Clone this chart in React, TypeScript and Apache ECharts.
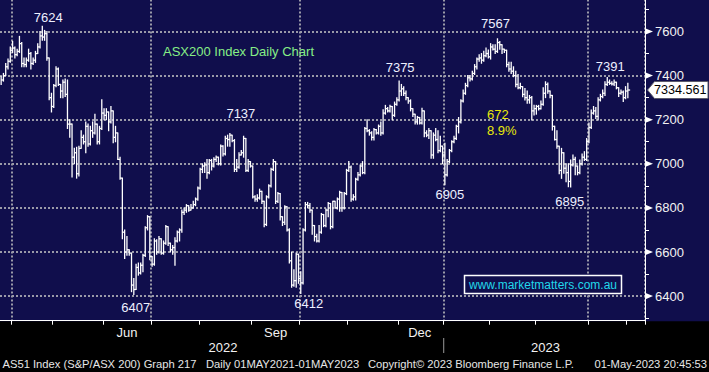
import { useEffect, useRef } from 'react';
import * as echarts from 'echarts';

const FONT = "'Liberation Sans', Arial, Helvetica, sans-serif";
const NAVY = '#100e4c';
const GRID_COLOR = '#9a9aa8';

// trading calendar (ASX)
const FIRST_DAY = [2022, 2, 25];
const LAST_DAY = [2023, 4, 1];
const FUTURE_SLOTS = 7;
const HOLIDAYS = [
  '2022-04-15', '2022-04-18', '2022-04-25', '2022-06-13', '2022-09-22',
  '2022-12-26', '2022-12-27', '2023-01-02', '2023-01-26', '2023-04-07',
  '2023-04-10', '2023-04-25',
];
const MONTH_NAMES = ['Jan', 'Feb', 'Mar', 'Apr', 'May', 'Jun', 'Jul', 'Aug', 'Sep', 'Oct', 'Nov', 'Dec'];
const LABEL_MONTHS = [2, 5, 8, 11];
const QUARTER_MONTHS = [0, 3, 6, 9];

// daily bars
const highs = [
  7395, 7410, 7455, 7475, 7530, 7555, 7530, 7520, 7578, 7550,
  7480, 7480, 7520, 7505, 7480, 7510, 7545, 7600, 7624, 7605,
  7600, 7480, 7320, 7360, 7440, 7435, 7360, 7380, 7385, 7380,
  7200, 7180, 7070, 7075, 7080, 7150, 7130, 7190, 7180, 7170,
  7190, 7225, 7180, 7170, 7290, 7250, 7250, 7235, 7260, 7240,
  7170, 7140, 7030, 6935, 6700, 6670, 6610, 6595, 6480, 6545,
  6550, 6550, 6590, 6715, 6765, 6760, 6580, 6660, 6655, 6670,
  6660, 6650, 6720, 6715, 6640, 6630, 6665, 6695, 6705, 6790,
  6800, 6815, 6810, 6815, 6830, 6845, 6895, 6980, 7000, 7005,
  7020, 7020, 7020, 7027, 7035, 7030, 7085, 7082, 7125, 7130,
  7137, 7130, 7110, 7020, 7050, 7060, 7125, 7115, 7020, 7010,
  6990, 6855, 6860, 6885, 6875, 6830, 6855, 6905, 6980, 7020,
  7010, 6870, 6865, 6760, 6810, 6805, 6705, 6600, 6520, 6595,
  6590, 6510, 6705, 6825, 6825, 6820, 6790, 6720, 6680, 6720,
  6775, 6770, 6795, 6825, 6820, 6830, 6830, 6845, 6875, 6870,
  6870, 6975, 7010, 6990, 6860, 6935, 6960, 6995, 7010, 7165,
  7200, 7155, 7145, 7160, 7155, 7176, 7190, 7245, 7265, 7255,
  7265, 7260, 7280, 7300, 7375, 7360, 7350, 7330, 7300, 7290,
  7250, 7225, 7215, 7210, 7252, 7240, 7150, 7160, 7150, 7140,
  7160, 7150, 7125, 7080, 7093, 7020, 7065, 7105, 7125, 7175,
  7210, 7290, 7335, 7365, 7400, 7400, 7420, 7450, 7480, 7495,
  7500, 7510, 7525, 7516, 7545, 7540, 7540, 7567, 7555, 7540,
  7520, 7515, 7460, 7460, 7440, 7420, 7405, 7365, 7350, 7342,
  7330, 7310, 7305, 7265, 7265, 7265, 7285, 7345, 7372, 7367,
  7330, 7310, 7170, 7150, 7080, 7070, 7050, 7000, 7000, 7017,
  7040, 7030, 6990, 7017, 7045, 7055, 7115, 7185, 7244, 7260,
  7255, 7300, 7315, 7335, 7372, 7391, 7380, 7372, 7380, 7370,
  7345, 7335, 7330, 7350, 7365,
];
const lows = [
  7360, 7375, 7400, 7430, 7460, 7505, 7480, 7490, 7505, 7440,
  7440, 7440, 7465, 7430, 7450, 7460, 7500, 7525, 7560, 7560,
  7470, 7290, 7235, 7255, 7350, 7355, 7300, 7300, 7305, 7160,
  7120, 6940, 7000, 6935, 6945, 7070, 7090, 7050, 7080, 7085,
  7120, 7135, 7090, 7090, 7155, 7200, 7200, 7150, 7185, 7095,
  7100, 7020, 6930, 6660, 6570, 6585, 6585, 6420, 6407, 6430,
  6495, 6500, 6510, 6580, 6700, 6565, 6535, 6540, 6590, 6595,
  6590, 6590, 6635, 6630, 6600, 6590, 6540, 6645, 6650, 6690,
  6770, 6780, 6785, 6790, 6800, 6810, 6835, 6885, 6960, 6960,
  6935, 6955, 6972, 6985, 7010, 6995, 6995, 7035, 7040, 7080,
  7080, 7100, 6965, 6965, 6980, 7040, 7030, 6965, 6965, 6985,
  6845, 6830, 6830, 6840, 6820, 6715, 6720, 6845, 6895, 6970,
  6820, 6825, 6745, 6720, 6725, 6695, 6550, 6440, 6445, 6440,
  6458, 6412, 6455, 6695, 6800, 6780, 6680, 6650, 6645, 6645,
  6685, 6715, 6715, 6760, 6705, 6710, 6798, 6795, 6785, 6785,
  6795, 6860, 6965, 6830, 6835, 6836, 6925, 6945, 6955, 6955,
  7145, 7130, 7108, 7108, 7135, 7135, 7130, 7135, 7225, 7235,
  7235, 7200, 7215, 7265, 7285, 7310, 7310, 7290, 7275, 7240,
  7215, 7180, 7180, 7180, 7180, 7123, 7123, 7115, 7025, 7025,
  7105, 7050, 7055, 7000, 6905, 6945, 7005, 7055, 7095, 7110,
  7140, 7185, 7280, 7315, 7350, 7375, 7380, 7405, 7430, 7465,
  7456, 7465, 7485, 7480, 7475, 7516, 7500, 7505, 7520, 7500,
  7505, 7440, 7420, 7410, 7395, 7350, 7340, 7340, 7304, 7289,
  7275, 7275, 7199, 7221, 7225, 7244, 7248, 7265, 7300, 7320,
  7300, 7153, 7108, 7070, 6955, 6934, 6957, 6919, 6896, 6895,
  6990, 6950, 6950, 6955, 6995, 7015, 7015, 7095, 7160, 7225,
  7206, 7199, 7285, 7300, 7310, 7355, 7360, 7357, 7355, 7340,
  7305, 7315, 7282, 7295, 7300,
];
const closes = [
  7380, 7400, 7440, 7465, 7515, 7525, 7495, 7510, 7545, 7455,
  7450, 7470, 7500, 7455, 7470, 7500, 7530, 7580, 7575, 7590,
  7480, 7300, 7260, 7355, 7430, 7360, 7330, 7370, 7315, 7180,
  7180, 7030, 7050, 6955, 7070, 7120, 7100, 7170, 7090, 7150,
  7140, 7180, 7100, 7160, 7230, 7220, 7235, 7190, 7240, 7120,
  7140, 7020, 6935, 6690, 6600, 6610, 6595, 6450, 6430, 6530,
  6505, 6540, 6585, 6710, 6760, 6580, 6545, 6650, 6600, 6660,
  6595, 6640, 6715, 6640, 6610, 6620, 6650, 6690, 6700, 6780,
  6790, 6810, 6790, 6800, 6815, 6840, 6890, 6975, 6990, 6995,
  6960, 7015, 6990, 7020, 7030, 7000, 7080, 7045, 7115, 7110,
  7130, 7105, 6975, 6985, 7040, 7050, 7115, 6970, 7010, 6990,
  6850, 6840, 6845, 6875, 6830, 6725, 6850, 6900, 6975, 7010,
  6830, 6865, 6760, 6735, 6805, 6700, 6560, 6450, 6470, 6590,
  6480, 6460, 6700, 6815, 6810, 6790, 6720, 6670, 6650, 6690,
  6770, 6720, 6790, 6820, 6715, 6830, 6800, 6840, 6870, 6800,
  6865, 6970, 6985, 6840, 6850, 6930, 6950, 6990, 6960, 7160,
  7150, 7140, 7120, 7155, 7140, 7170, 7140, 7230, 7250, 7240,
  7260, 7220, 7270, 7290, 7330, 7340, 7320, 7300, 7285, 7250,
  7225, 7190, 7210, 7185, 7240, 7140, 7130, 7150, 7040, 7130,
  7110, 7060, 7080, 7040, 6950, 7010, 7060, 7100, 7115, 7170,
  7190, 7285, 7320, 7355, 7390, 7385, 7410, 7440, 7475, 7480,
  7470, 7490, 7500, 7485, 7530, 7520, 7510, 7550, 7540, 7520,
  7515, 7450, 7430, 7420, 7400, 7360, 7345, 7350, 7315, 7300,
  7290, 7300, 7240, 7250, 7260, 7250, 7270, 7320, 7360, 7330,
  7310, 7170, 7110, 7080, 6970, 7050, 6980, 6960, 6920, 6995,
  7020, 6990, 6960, 7000, 7030, 7020, 7100, 7165, 7230, 7240,
  7215, 7290, 7305, 7320, 7360, 7370, 7365, 7362, 7370, 7345,
  7320, 7325, 7300, 7330, 7334.561,
];

// right axis tick labels
const yTickLabels = [6400, 6600, 6800, 7000, 7200, 7400, 7600];

// annotated swing points (bar index, which end of the bar)
const annIndex = [18, 100, 174, 217, 265, 58, 131, 194, 249];
const annSide = ['high', 'high', 'high', 'high', 'high', 'low', 'low', 'low', 'low'];
// label placement relative to the bar end (pixels) – styling only
const annOffset = [[6, -9], [11, -20], [1, -14], [-2, -15], [3, -11], [2, 13], [8, 10], [5, 10], [-1, 15]];
// swing measured by the yellow note
const swingHighIndex = 217;
const swingLowIndex = 249;

function buildDays(): string[] {
  const pad = (n: number) => String(n).padStart(2, '0');
  const fmt = (d: Date) => `${d.getUTCFullYear()}-${pad(d.getUTCMonth() + 1)}-${pad(d.getUTCDate())}`;
  const hol = new Set(HOLIDAYS);
  const out: string[] = [];
  const d = new Date(Date.UTC(FIRST_DAY[0], FIRST_DAY[1], FIRST_DAY[2]));
  const end = Date.UTC(LAST_DAY[0], LAST_DAY[1], LAST_DAY[2]);
  let future = 0;
  for (let guard = 0; guard < 1000; guard++) {
    const wd = d.getUTCDay();
    const s = fmt(d);
    if (wd !== 0 && wd !== 6 && !hol.has(s)) {
      if (d.getTime() <= end) out.push(s);
      else if (future < FUTURE_SLOTS) { out.push(s); future++; }
      else break;
    }
    d.setUTCDate(d.getUTCDate() + 1);
  }
  return out;
}

export default function App() {
  const ref = useRef<HTMLDivElement>(null);

  useEffect(() => {
    if (!ref.current) return;
    const chart = echarts.init(ref.current, null, { renderer: 'svg' });

    const days = buildDays();
    const ym = (s: string) => s.slice(0, 7);
    const monthStarts = new Set<number>();
    const quarterStarts = new Set<number>();
    const labelMap = new Map<number, string>();
    const monthGroups: { key: string; first: number; last: number }[] = [];
    const yearGroups: { year: string; first: number; last: number }[] = [];
    days.forEach((s, i) => {
      const key = ym(s);
      const year = s.slice(0, 4);
      if (!monthGroups.length || monthGroups[monthGroups.length - 1].key !== key) {
        monthGroups.push({ key, first: i, last: i });
        if (i > 0) {
          monthStarts.add(i);
          const m = Number(s.slice(5, 7)) - 1;
          if (QUARTER_MONTHS.includes(m)) quarterStarts.add(i);
        }
      } else monthGroups[monthGroups.length - 1].last = i;
      if (!yearGroups.length || yearGroups[yearGroups.length - 1].year !== year) {
        yearGroups.push({ year, first: i, last: i });
      } else yearGroups[yearGroups.length - 1].last = i;
    });
    monthGroups.forEach((g) => {
      const m = Number(g.key.slice(5, 7)) - 1;
      if (g.first > 0 && LABEL_MONTHS.includes(m)) {
        labelMap.set(Math.floor((g.first + g.last) / 2), MONTH_NAMES[m]);
      }
    });
    yearGroups.forEach((g) => {
      labelMap.set(Math.round((g.first + g.last) / 2), '\n' + g.year);
    });
    const yearBoundaries = yearGroups.slice(1).map((g) => g.first);

    const barData = closes.map((c, i) => [i, highs[i], lows[i], c]);
    const annData = annIndex.map((idx, k) => [idx, annSide[k] === 'high' ? highs[idx] : lows[idx]]);
    const lastIdx = closes.length - 1;
    const swing = highs[swingHighIndex] - lows[swingLowIndex];
    const swingPct = ((swing / highs[swingHighIndex]) * 100).toFixed(1) + '%';

    const dotted = { color: GRID_COLOR, width: 2, type: [2, 2] };

    chart.setOption({
      animation: false,
      backgroundColor: NAVY,
      grid: { left: 0, top: -12.6, width: 645, height: 352.8, outerBoundsMode: 'none', containLabel: false },
      xAxis: [
        {
          type: 'category', data: days, boundaryGap: true, z: 0,
          axisLine: { show: false }, axisTick: { show: false }, axisLabel: { show: false },
          splitLine: { show: true, interval: (i: number) => quarterStarts.has(i), lineStyle: dotted },
        },
        {
          type: 'category', data: days, boundaryGap: true, position: 'bottom', offset: -19.5, z: 10,
          axisLine: { show: true, onZero: false, lineStyle: { color: '#ffffff', width: 1 } },
          axisTick: { show: true, interval: (i: number) => monthStarts.has(i), length: 4, lineStyle: { color: '#ffffff', width: 1 } },
          axisLabel: {
            interval: (i: number) => labelMap.has(i),
            formatter: (_v: string, i: number) => labelMap.get(i) || '',
            color: '#f2f2f2', fontSize: 13, fontFamily: FONT, margin: 4, lineHeight: 15,
          },
          splitLine: { show: false },
        },
      ],
      yAxis: {
        type: 'value', position: 'right', min: 6200, max: 7800, interval: 200, z: 0,
        axisLine: { show: true, lineStyle: { color: '#ffffff', width: 1 } },
        axisTick: { show: false },
        minorTick: { show: true, splitNumber: 2, length: 4, lineStyle: { color: '#ffffff', width: 1 } },
        axisLabel: {
          color: '#f2f2f2', fontSize: 13, fontFamily: FONT, margin: 10,
          formatter: (v: number) => (yTickLabels.includes(v) ? String(v) : ''),
        },
        splitLine: { show: true, lineStyle: dotted },
        minorSplitLine: { show: false },
      },
      series: [
        {
          type: 'custom', name: 'AS51', data: barData, encode: { x: 0, y: [1, 2, 3] }, z: 3,
          renderItem: (_p: any, api: any) => {
            const idx = api.value(0);
            const hi = api.coord([idx, api.value(1)]);
            const lo = api.coord([idx, api.value(2)]);
            const cl = api.coord([idx, api.value(3)]);
            const bw = api.size([1, 0])[0];
            const st = { stroke: '#ffffff', lineWidth: 1.3 };
            return {
              type: 'group',
              children: [
                { type: 'line', shape: { x1: hi[0], y1: hi[1] - 0.5, x2: lo[0], y2: lo[1] + 0.5 }, style: st },
                { type: 'line', shape: { x1: cl[0], y1: cl[1], x2: cl[0] + bw, y2: cl[1] }, style: st },
              ],
            };
          },
        },
        {
          type: 'custom', name: 'swings', data: annData, encode: { x: 0, y: 1 }, z: 4,
          renderItem: (p: any, api: any) => {
            const pt = api.coord([api.value(0), api.value(1)]);
            const off = annOffset[p.dataIndex];
            return {
              type: 'text', x: pt[0] + off[0], y: pt[1] + off[1],
              style: {
                text: String(api.value(1)), fill: '#eef0ff', font: `13px ${FONT}`,
                align: 'center', verticalAlign: 'middle',
              },
            };
          },
        },
        {
          type: 'custom', name: 'axisMarkers', data: yTickLabels.map((v) => [0, v]), encode: { x: 0, y: 1 }, z: 4,
          renderItem: (p: any, api: any) => {
            const y = api.coord([0, api.value(1)])[1];
            const x0 = p.coordSys.x + p.coordSys.width;
            return {
              type: 'polygon',
              shape: { points: [[x0, y - 3.3], [x0 + 8, y], [x0, y + 3.3]] },
              style: { fill: '#ffffff' },
            };
          },
        },
        {
          type: 'custom', name: 'lastPrice', data: [[lastIdx, closes[lastIdx]]], encode: { x: 0, y: 1 }, z: 5,
          renderItem: (p: any, api: any) => {
            const y = api.coord([api.value(0), api.value(1)])[1];
            const x0 = p.coordSys.x + p.coordSys.width + 2.5;
            return {
              type: 'group',
              children: [
                {
                  type: 'polygon',
                  shape: { points: [[x0, y], [x0 + 7, y - 8.5], [x0 + 60.5, y - 8.5], [x0 + 60.5, y + 8.5], [x0 + 7, y + 8.5]] },
                  style: { fill: '#ffffff', stroke: '#5a5a6a', lineWidth: 1 },
                },
                {
                  type: 'text', x: x0 + 6.5, y,
                  style: { text: Number(api.value(1)).toFixed(3), fill: '#000000', font: `12.6px ${FONT}`, align: 'left', verticalAlign: 'middle' },
                },
              ],
            };
          },
        },
        {
          type: 'custom', name: 'yearSep', data: yearBoundaries.map((i) => [i, 6400]), encode: { x: 0, y: 1 }, z: 12,
          renderItem: (_p: any, api: any) => {
            const x = api.coord([api.value(0), api.value(1)])[0] - api.size([1, 0])[0] / 2;
            return { type: 'line', shape: { x1: x, y1: 338, x2: x, y2: 353 }, style: { stroke: '#9a9a9a', lineWidth: 1 } };
          },
        },
      ],
      graphic: [
        { type: 'rect', z: 5, shape: { x: 0, y: 321.2, width: 709, height: 51 }, style: { fill: '#000000' } },
        { type: 'text', z: 6, x: 163, y: 51, style: { text: 'ASX200 Index Daily Chart', fill: '#86ee86', font: `13px ${FONT}`, verticalAlign: 'middle' } },
        { type: 'text', z: 6, x: 487, y: 114.5, style: { text: String(swing), fill: '#e8e80a', font: `13px ${FONT}`, verticalAlign: 'middle' } },
        { type: 'text', z: 6, x: 487, y: 130.5, style: { text: swingPct, fill: '#e8e80a', font: `13px ${FONT}`, verticalAlign: 'middle' } },
        { type: 'rect', z: 6, shape: { x: 464.5, y: 275.5, width: 157, height: 18 }, style: { fill: NAVY, stroke: '#ffffff', lineWidth: 1.5 } },
        { type: 'text', z: 7, x: 543, y: 285, style: { text: 'www.marketmatters.com.au', fill: '#22d8ea', font: `12px ${FONT}`, align: 'center', verticalAlign: 'middle' } },
        { type: 'text', z: 7, x: 2.5, y: 363.5, style: { text: 'AS51 Index (S&P/ASX 200) Graph 217', fill: '#e6e6e6', font: `11.2px ${FONT}`, verticalAlign: 'middle' } },
        { type: 'text', z: 7, x: 206, y: 363.5, style: { text: 'Daily 01MAY2021-01MAY2023', fill: '#e6e6e6', font: `11.2px ${FONT}`, verticalAlign: 'middle' } },
        { type: 'text', z: 7, x: 368, y: 363.5, style: { text: 'Copyright\u00a9 2023 Bloomberg Finance L.P.', fill: '#e6e6e6', font: `11.2px ${FONT}`, verticalAlign: 'middle' } },
        { type: 'text', z: 7, x: 707, y: 363.5, style: { text: '01-May-2023 20:45:53', fill: '#e6e6e6', font: `11.2px ${FONT}`, align: 'right', verticalAlign: 'middle' } },
      ],
    });

    return () => chart.dispose();
  }, []);

  return <div ref={ref} style={{ position: 'fixed', left: 0, top: 0, width: 709, height: 372 }} />;
}
